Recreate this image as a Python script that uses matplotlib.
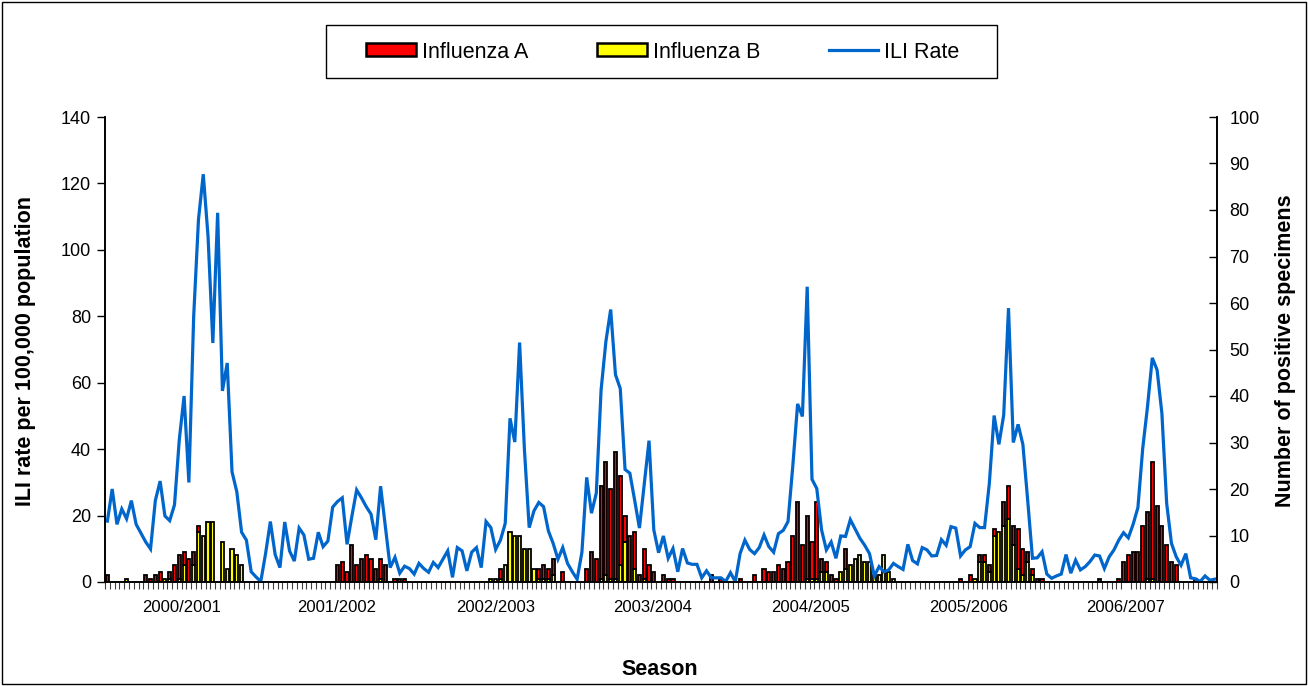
import matplotlib.pyplot as plt
import numpy as np
from matplotlib.patches import Patch, Rectangle
from matplotlib.lines import Line2D

plt.rcParams['font.family'] = ['Liberation Sans', 'DejaVu Sans']

seasons = ["2000/2001", "2001/2002", "2002/2003", "2003/2004",
           "2004/2005", "2005/2006", "2006/2007"]
# week index where each season label sits
season_pos = [15.4, 47.9, 80.9, 113.8, 146.6, 179.6, 212.5]

# weekly ILI rate (right axis), one row per season
ili_rate = [
    13.1, 20.0, 12.4, 15.7, 13.6, 17.5, 12.4, 10.5, 8.6, 7.1, 17.5, 21.7, 14.2, 13.2, 16.6, 30.6, 40.0,
    21.4, 57.1, 77.9, 87.7, 74.3, 51.4, 79.4, 41.1, 47.1, 23.7, 19.4, 10.7, 9.0, 2.2, 1.1, 0.1,
    6.1, 13.0, 5.9, 3.1, 12.9, 6.7, 4.5, 11.6, 10.1, 4.9, 5.1, 10.7, 7.6, 8.8, 16.1, 17.3, 18.1,
    8.1, 14.1, 19.8, 18.1, 16.2, 14.6, 9.1, 20.6, 11.9, 3.1, 5.3, 1.9, 3.4, 2.9, 1.7, 4.0,
    2.9, 2.1, 4.2, 3.1, 4.9, 6.7, 1.0, 7.4, 6.7, 2.4, 6.4, 7.4, 3.1, 13.0, 11.7, 7.0, 9.0,
    12.6, 35.2, 30.1, 51.5, 28.6, 11.7, 15.3, 17.1, 16.2, 11.0, 8.3, 4.9, 7.4, 4.0, 2.2, 0.6,
    6.4, 22.5, 14.8, 19.1, 41.3, 51.7, 58.6, 44.6, 41.6, 24.2, 23.4, 17.6, 11.6, 21.1, 30.4, 11.2, 6.3,
    9.9, 5.1, 7.2, 2.2, 7.2, 4.1, 3.8, 3.8, 0.9, 2.4, 0.9, 0.9, 0.9, 0.1, 2.0, 0.1,
    6.1, 9.0, 7.0, 6.1, 7.4, 10.1, 7.6, 6.4, 10.4, 11.1, 13.0, 25.0, 38.3, 35.6, 63.5, 22.1, 20.1,
    11.2, 6.9, 8.6, 5.1, 9.9, 9.8, 13.4, 11.4, 9.4, 7.9, 6.1, 1.3, 3.3, 2.2, 2.6, 4.0, 3.3,
    2.7, 8.1, 4.6, 3.9, 7.4, 6.9, 5.6, 5.7, 9.1, 7.9, 11.9, 11.6, 5.6, 6.9, 7.6, 12.6, 11.7,
    11.7, 21.2, 35.8, 29.6, 35.9, 58.9, 30.0, 33.9, 29.6, 17.6, 5.1, 5.2, 6.5, 1.7, 0.8, 1.3,
    1.7, 5.9, 1.9, 4.7, 2.6, 3.3, 4.4, 5.8, 5.6, 2.9, 5.4, 6.9, 9.0, 10.6, 9.5, 12.4, 16.0,
    28.7, 37.7, 48.2, 45.6, 36.3, 16.9, 8.3, 5.4, 3.6, 6.1, 0.9, 0.7, 0.1, 1.3, 0.4, 0.6,
]

# positive specimens per week (left axis)
flu_a = [
    2, 0, 0, 0, 0, 0, 0, 0, 2, 1, 2, 3, 0, 2, 5, 7, 4, 7, 4, 2, 0, 0, 0, 0, 0, 0, 0, 0, 0, 0, 0, 0, 0,
    0, 0, 0, 0, 0, 0, 0, 0, 0, 0, 0, 0, 0, 0, 0, 5, 6, 3, 11, 5, 7, 8, 7, 4, 6, 5, 0, 1, 1, 1, 0, 0, 0,
    0, 0, 0, 0, 0, 0, 0, 0, 0, 0, 0, 0, 0, 0, 0, 0, 3, 0, 0, 0, 0, 0, 0, 0, 3, 4, 3, 5, 0, 3, 0, 0, 0,
    0, 4, 9, 7, 28, 34, 27, 38, 27, 8, 14, 11, 2, 9, 5, 3, 0, 2, 1, 1, 0, 0, 0, 0, 0, 0, 0, 2, 0, 1, 0, 0, 0,
    1, 0, 0, 2, 0, 4, 3, 3, 5, 4, 6, 14, 24, 11, 19, 11, 23, 4, 3, 2, 1, 0, 6, 0, 0, 0, 0, 0, 0, 0, 0, 0, 0, 0,
    0, 0, 0, 0, 0, 0, 0, 0, 0, 0, 0, 0, 1, 0, 2, 0, 2, 2, 2, 2, 0, 7, 10, 6, 12, 8, 3, 2, 1, 1, 0, 0, 0,
    0, 0, 0, 0, 0, 0, 0, 0, 1, 0, 0, 0, 1, 6, 8, 9, 9, 17, 20, 35, 23, 17, 11, 6, 5, 0, 0, 0, 1, 0, 0, 0, 0,
]
flu_b = [
    0, 0, 0, 0, 1, 0, 0, 0, 0, 0, 0, 0, 1, 1, 0, 1, 5, 0, 5, 15, 14, 18, 18, 0, 12, 4, 10, 8, 5, 0, 0, 0, 0,
    0, 0, 0, 0, 0, 0, 0, 0, 0, 0, 0, 0, 0, 0, 0, 0, 0, 0, 0, 0, 0, 0, 0, 0, 1, 0, 0, 0, 0, 0, 0, 0, 0,
    0, 0, 0, 0, 0, 0, 0, 0, 0, 0, 0, 0, 0, 0, 1, 1, 1, 5, 15, 14, 14, 10, 10, 4, 1, 1, 1, 2, 0, 0, 0, 0, 0,
    0, 0, 0, 0, 1, 2, 1, 1, 5, 12, 0, 4, 0, 1, 0, 0, 0, 0, 0, 0, 0, 0, 0, 0, 0, 0, 0, 0, 0, 0, 0, 0, 0,
    0, 0, 0, 0, 0, 0, 0, 0, 0, 0, 0, 0, 0, 0, 1, 1, 1, 3, 3, 0, 0, 3, 4, 5, 7, 8, 6, 6, 2, 2, 8, 3, 1, 0,
    0, 0, 0, 0, 0, 0, 0, 0, 0, 0, 0, 0, 0, 0, 0, 1, 6, 6, 3, 14, 15, 17, 19, 11, 4, 2, 6, 2, 0, 0, 0, 0, 0,
    0, 0, 0, 0, 0, 0, 0, 0, 0, 0, 0, 0, 0, 0, 0, 0, 0, 0, 1, 1, 0, 0, 0, 0, 0, 0, 0, 0, 0, 0, 0, 0, 0,
]

W, H = 1308, 686
weeks = np.arange(len(ili_rate))
a = np.array(flu_a, dtype=float)
b = np.array(flu_b, dtype=float)

fig = plt.figure(figsize=(W / 100, H / 100), dpi=100)
ax = fig.add_axes([105 / W, 1 - 582 / H, (1217 - 105) / W, (582 - 117) / H])
ax2 = ax.twinx()

bw = 0.66
ib = b > 0
ax.bar(weeks[ib], b[ib], width=bw, color="#FFFF00", edgecolor="black", linewidth=1.3, zorder=2)
ia = a > 0
ax.bar(weeks[ia], a[ia], bottom=b[ia], width=bw, color="#FF0000", edgecolor="black", linewidth=1.3, zorder=2)

ax2.plot(weeks, ili_rate, color="#0066CC", linewidth=2.3, solid_joinstyle="miter")

ax.set_xlim(-0.5, len(weeks) - 0.5)
ax.set_ylim(0, 140)
ax2.set_ylim(0, 100)
ax.set_yticks(np.arange(0, 141, 20))
ax2.set_yticks(np.arange(0, 101, 10))

ax.set_xticks(season_pos)
ax.set_xticklabels(seasons, fontsize=12)
ax.set_xticks(np.arange(-0.5, len(weeks), 1), minor=True)
ax.tick_params(axis="x", which="major", length=0, pad=13)
ax.tick_params(axis="x", which="minor", length=5, width=0.8, color="#404040", direction="out")
ax.tick_params(axis="y", labelsize=13, length=6, width=1, direction="out", pad=4)
ax2.tick_params(axis="y", labelsize=13, length=6, width=1, direction="in", pad=9)

for axx in (ax, ax2):
    axx.spines["top"].set_visible(False)
    for s in axx.spines.values():
        s.set_linewidth(1.2)

ax.set_ylabel("ILI rate per 100,000 population", fontsize=15.5, fontweight="bold")
ax.yaxis.set_label_coords(-0.062, 0.497)
ax2.set_ylabel("Number of positive specimens", fontsize=15.5, fontweight="bold")
ax2.yaxis.set_label_coords(1.052, 0.497)
ax.set_xlabel("Season", fontsize=15.5, fontweight="bold")
ax.xaxis.set_label_coords(0.499, -0.166)

handles = [
    Patch(facecolor="#FF0000", edgecolor="black", linewidth=1.8),
    Patch(facecolor="#FFFF00", edgecolor="black", linewidth=1.8),
    Line2D([0], [0], color="#0066CC", linewidth=2.3),
]
leg = fig.legend(handles, ["Influenza A", "Influenza B", "ILI Rate"], ncol=3,
                 loc="center", bbox_to_anchor=(663 / W, 1 - 52 / H),
                 fontsize=15.5, frameon=False, handlelength=2.3,
                 handleheight=0.55, handletextpad=0.28, columnspacing=3.2,
                 borderpad=0, borderaxespad=0)

# legend box and outer chart border
fig.patches.append(Rectangle((326 / W, 1 - 78 / H), 671 / W, 53 / H, transform=fig.transFigure,
                             fill=False, edgecolor="black", linewidth=1.0))
fig.patches.append(Rectangle((2 / W, 2 / H), 1 - 4 / W, 1 - 4 / H, transform=fig.transFigure,
                             fill=False, edgecolor="black", linewidth=1.0))

fig.savefig("out.png", dpi=100)
